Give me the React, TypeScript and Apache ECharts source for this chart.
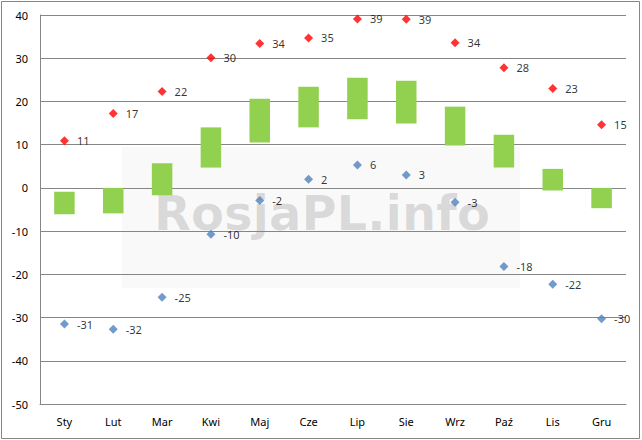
import React, { useEffect, useRef } from "react";
import * as echarts from "echarts";

const months = ["Sty", "Lut", "Mar", "Kwi", "Maj", "Cze", "Lip", "Sie", "Wrz", "Paź", "Lis", "Gru"];
const maxTemps = [10.9, 17.2, 22.3, 30.1, 33.4, 34.7, 39.1, 39.0, 33.6, 27.8, 23.0, 14.6];
const maxLabels = [11, 17, 22, 30, 34, 35, 39, 39, 34, 28, 23, 15];
const minTemps = [-31.5, -32.7, -25.3, -10.7, -2.9, 2.0, 5.3, 3.0, -3.3, -18.2, -22.3, -30.3];
const minLabels = [-31, -32, -25, -10, -2, 2, 6, 3, -3, -18, -22, -30];
const avgLow = [-6.1, -5.9, -1.7, 4.7, 10.5, 14.0, 15.9, 14.9, 9.8, 4.7, -0.6, -4.7];
const avgHigh = [-0.9, 0, 5.7, 14.0, 20.6, 23.4, 25.5, 24.8, 18.8, 12.3, 4.4, 0];
const yTicks = { min: -50, max: 40, interval: 10 };
const watermark = "RosjaPL.info";

const FONT = "'Noto Sans', 'DejaVu Sans', sans-serif";

export default function App() {
  const ref = useRef<HTMLDivElement>(null);
  useEffect(() => {
    if (!ref.current) return;
    const chart = echarts.init(ref.current, undefined, { renderer: "svg" });
    const labelStyle = (labels: number[]) => ({
      show: true,
      position: "right",
      distance: 8,
      fontSize: 11,
      fontFamily: FONT,
      color: "#000",
      formatter: (p: any) => String(labels[p.dataIndex]),
    });
    chart.setOption({
      animation: false,
      backgroundColor: "#fff",
      grid: { left: 40, right: 16, top: 15, bottom: 36, containLabel: false },
      graphic: [
        {
          type: "rect",
          z: -10,
          silent: true,
          shape: { x: 122, y: 147, width: 398, height: 141 },
          style: { fill: "rgba(0,0,0,0.022)" },
        },
        {
          type: "text",
          z: -9,
          silent: true,
          x: 322,
          y: 213,
          style: {
            text: watermark,
            fontSize: 48,
            fontWeight: "bold",
            fontFamily: "'DejaVu Sans', sans-serif",
            fill: "rgba(0,0,0,0.12)",
            align: "center",
            verticalAlign: "middle",
          },
        },
        {
          type: "rect",
          z: 100,
          silent: true,
          shape: { x: 1.5, y: 1.5, width: 638, height: 437 },
          style: { fill: "none", stroke: "#868686", lineWidth: 1 },
        },
      ],
      xAxis: {
        type: "category",
        data: months,
        boundaryGap: true,
        axisLine: { show: true, onZero: false, lineStyle: { color: "#868686" } },
        axisTick: { show: false },
        axisLabel: { fontSize: 11, fontFamily: FONT, color: "#000", margin: 12 },
        splitLine: { show: false },
      },
      yAxis: {
        type: "value",
        min: yTicks.min,
        max: yTicks.max,
        interval: yTicks.interval,
        axisLine: { show: true, lineStyle: { color: "#868686" } },
        axisTick: { show: false },
        axisLabel: { fontSize: 11, fontFamily: FONT, color: "#000", margin: 12 },
        splitLine: { show: true, lineStyle: { color: "#868686", width: 1 } },
      },
      series: [
        {
          type: "custom",
          name: "Średnia",
          z: 2,
          data: months.map((_, i) => [i, avgLow[i], avgHigh[i]]),
          encode: { x: 0, y: [1, 2] },
          renderItem: (params: any, api: any) => {
            const idx = api.value(0);
            const lo = api.coord([idx, api.value(1)]);
            const hi = api.coord([idx, api.value(2)]);
            const w = api.size([1, 0])[0] * 0.42;
            return {
              type: "rect",
              shape: { x: lo[0] - w / 2, y: hi[1], width: w, height: lo[1] - hi[1] },
              style: { fill: "#92D050" },
            };
          },
        },
        {
          type: "scatter",
          name: "Max",
          z: 3,
          symbol: "diamond",
          symbolSize: 9,
          data: maxTemps,
          itemStyle: { color: "#FF0000" },
          label: labelStyle(maxLabels),
        },
        {
          type: "scatter",
          name: "Min",
          z: 3,
          symbol: "diamond",
          symbolSize: 9,
          data: minTemps,
          itemStyle: { color: "#4F81BD" },
          label: labelStyle(minLabels),
        },
      ],
    });
    return () => chart.dispose();
  }, []);
  return (
    <div
      ref={ref}
      style={{ position: "fixed", left: 0, top: 0, width: 642, height: 440 }}
    />
  );
}
